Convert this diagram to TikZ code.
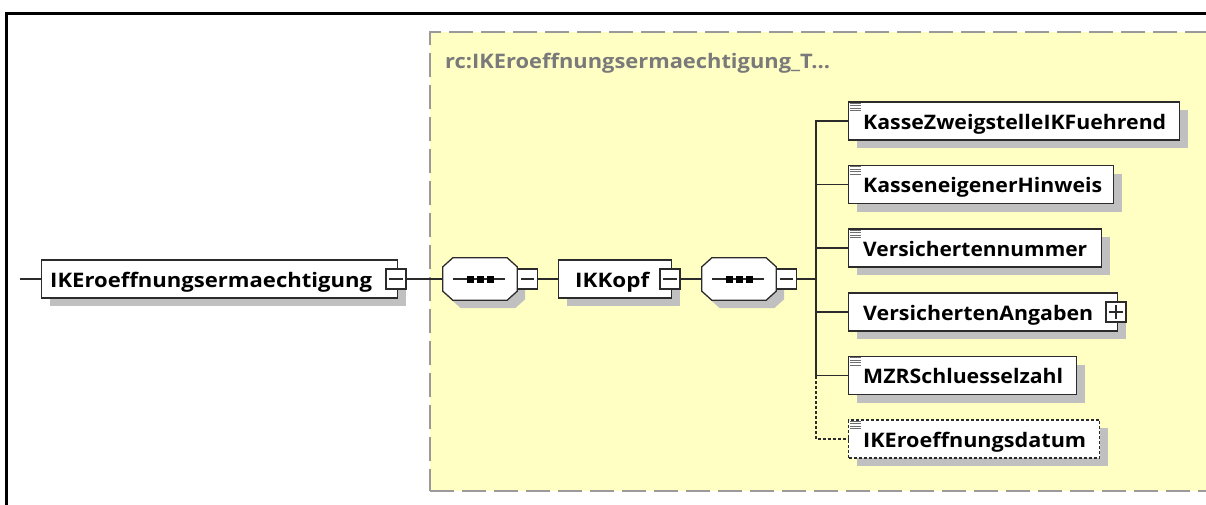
\documentclass[tikz,border=0pt]{standalone}
\usepackage{fontspec}
\usepackage{graphicx}
\newfontfamily\uifont{Open Sans}
\usetikzlibrary{shadows}
\definecolor{typefill}{HTML}{FFFFC4}
\definecolor{typeborder}{HTML}{9A9A9A}
\definecolor{shadowgray}{HTML}{C0C0C0}
\definecolor{linegray}{HTML}{2B2B2B}
\definecolor{titlegray}{HTML}{7A7A7A}
\definecolor{icongray}{HTML}{6E6E6E}
\newcommand\fitlabel[2]{\resizebox{#1pt}{\height}{\uifont\bfseries\fontsize{20}{24}\selectfont #2}}
\newcommand\octpath[1]{([xshift=10pt]#1.north west) -- ([xshift=-10pt]#1.north east) -- ([yshift=-9pt]#1.north east) -- ([yshift=9pt]#1.south east) -- ([xshift=-10pt]#1.south east) -- ([xshift=10pt]#1.south west) -- ([yshift=9pt]#1.south west) -- ([yshift=-9pt]#1.north west) -- cycle}
\begin{document}
\begin{tikzpicture}[x=1pt,y=-1pt,
  shad/.style={drop shadow={shadow xshift=8pt,shadow yshift=-8pt,fill=shadowgray,opacity=1}},
  elbox/.style={draw=linegray,line width=1.3pt,fill=white,rectangle,inner sep=0pt,minimum height=38pt,anchor=west,shad},
  seqframe/.style={rectangle,inner sep=0pt,minimum width=74pt,minimum height=42pt},
  seqdraw/.style={draw=linegray,line width=1.3pt,fill=white,line join=miter},
  seqshadow/.style={fill=shadowgray,transform canvas={shift={(8pt,-8pt)}}},
  minbox/.style={draw=linegray,line width=1.2pt,fill=white,rectangle,minimum size=20pt,inner sep=0pt},
  lbl/.style={anchor=base west,inner sep=0pt,text=black},
  conn/.style={draw=linegray,line width=1.3pt},
  optline/.style={conn,dash pattern=on 3pt off 2pt},
  iconline/.style={draw=icongray,line width=1.1pt}]
\clip (0,0) rectangle (1206,504);
\fill[white] (0,0) rectangle (1206,504);
% outer frame
\draw[line width=3pt,black] (1210,13) -- (6,13) -- (6,510);
% complex type area
\node[draw=typeborder,fill=typefill,line width=2pt,dash pattern=on 24pt off 8pt,anchor=north west,minimum width=800pt,minimum height=459pt,inner sep=0pt] (ctype) at (429,31) {};
\node[anchor=base west,inner sep=0pt,text=titlegray] (title) at (445,68) {\fitlabel{385}{rc:IKEroeffnungsermaechtigung\_T...}};
% coordinates
\coordinate (start) at (20,279);
\coordinate (junc) at (816,279);
% root element
\node[elbox,minimum width=356pt] (ike) at (41,279) {};
\node[lbl] (ikeT) at ([xshift=9pt,yshift=-8pt]ike.west) {\fitlabel{322}{IKEroeffnungsermaechtigung}};
\node[minbox] (m0) at (396,279) {};
% sequence frames
\node[seqframe] (seq1) at (480,279) {};
\node[seqframe] (seq2) at (739,279) {};
% sequence octagons
\foreach \s in {seq1,seq2}{
  \fill[seqshadow] \octpath{\s};
  \filldraw[seqdraw] \octpath{\s};
  \draw[conn] ([xshift=-27pt]\s.center) -- ([xshift=25pt]\s.center);
  \foreach \dx in {-10,0,10}{
    \fill[black] ([xshift=\dx pt]\s.center) ++(-3.5,-3.5) rectangle ++(7,7);
  }
}
\node[minbox,anchor=west] (ms1) at (seq1.east) {};
\node[minbox,anchor=west] (ms2) at (seq2.east) {};
% IKKopf
\node[elbox,minimum width=113pt] (kopf) at (558,279) {};
\node[lbl] (kopfT) at ([xshift=17pt,yshift=-8pt]kopf.west) {\fitlabel{74}{IKKopf}};
\node[minbox] (mk) at (670,279) {};
% children
\node[elbox,minimum width=331pt] (kasse) at (848,121) {};
\node[lbl] (kasseT) at ([xshift=15pt,yshift=-8pt]kasse.west) {\fitlabel{303}{KasseZweigstelleIKFuehrend}};
\node[elbox,minimum width=265pt] (hinweis) at (848,184.5) {};
\node[lbl] (hinweisT) at ([xshift=15pt,yshift=-8pt]hinweis.west) {\fitlabel{239}{KasseneigenerHinweis}};
\node[elbox,minimum width=253pt] (vnr) at (848,248) {};
\node[lbl] (vnrT) at ([xshift=15pt,yshift=-8pt]vnr.west) {\fitlabel{224}{Versichertennummer}};
\node[elbox,minimum width=269pt] (vang) at (848,312) {};
\node[lbl] (vangT) at ([xshift=15pt,yshift=-8pt]vang.west) {\fitlabel{230}{VersichertenAngaben}};
\node[minbox] (pv) at (1116,312) {};
\node[elbox,minimum width=228pt] (mzr) at (848,375.5) {};
\node[lbl] (mzrT) at ([xshift=15pt,yshift=-8pt]mzr.west) {\fitlabel{200}{MZRSchluesselzahl}};
\node[elbox,minimum width=251pt,dash pattern=on 3pt off 2pt] (datum) at (848,439) {};
\node[lbl] (datumT) at ([xshift=15pt,yshift=-8pt]datum.west) {\fitlabel{223}{IKEroeffnungsdatum}};
% minus / plus signs
\foreach \b in {m0,ms1,mk,ms2,pv}{
  \draw[conn,line width=1.1pt] ([xshift=4pt]\b.west) -- ([xshift=-4pt]\b.east);
}
\draw[conn,line width=1.1pt] ([yshift=4pt]pv.south) -- ([yshift=-4pt]pv.north);
% leaf icons
\foreach \n in {kasse,hinweis,vnr,mzr,datum}{
  \foreach \k in {0,...,3}{
    \draw[iconline] ([xshift=1.5pt,yshift={-(2+2.5*\k)*1pt}]\n.north west) -- ++(11,0);
  }
}
% connectors
\draw[conn] (start) -- (ike.west);
\draw[conn] (m0.east) -- (seq1.west);
\draw[conn] (ms1.east) -- (kopf.west);
\draw[conn] (mk.east) -- (seq2.west);
\draw[conn] (ms2.east) -- (junc);
\draw[conn] (kasse.west) -| (junc) |- (mzr.west);
\draw[conn] (hinweis.west) -- (hinweis.west -| junc);
\draw[conn] (vnr.west) -- (vnr.west -| junc);
\draw[conn] (vang.west) -- (vang.west -| junc);
\draw[optline] (mzr.west -| junc) |- (datum.west);
\end{tikzpicture}
\end{document}
